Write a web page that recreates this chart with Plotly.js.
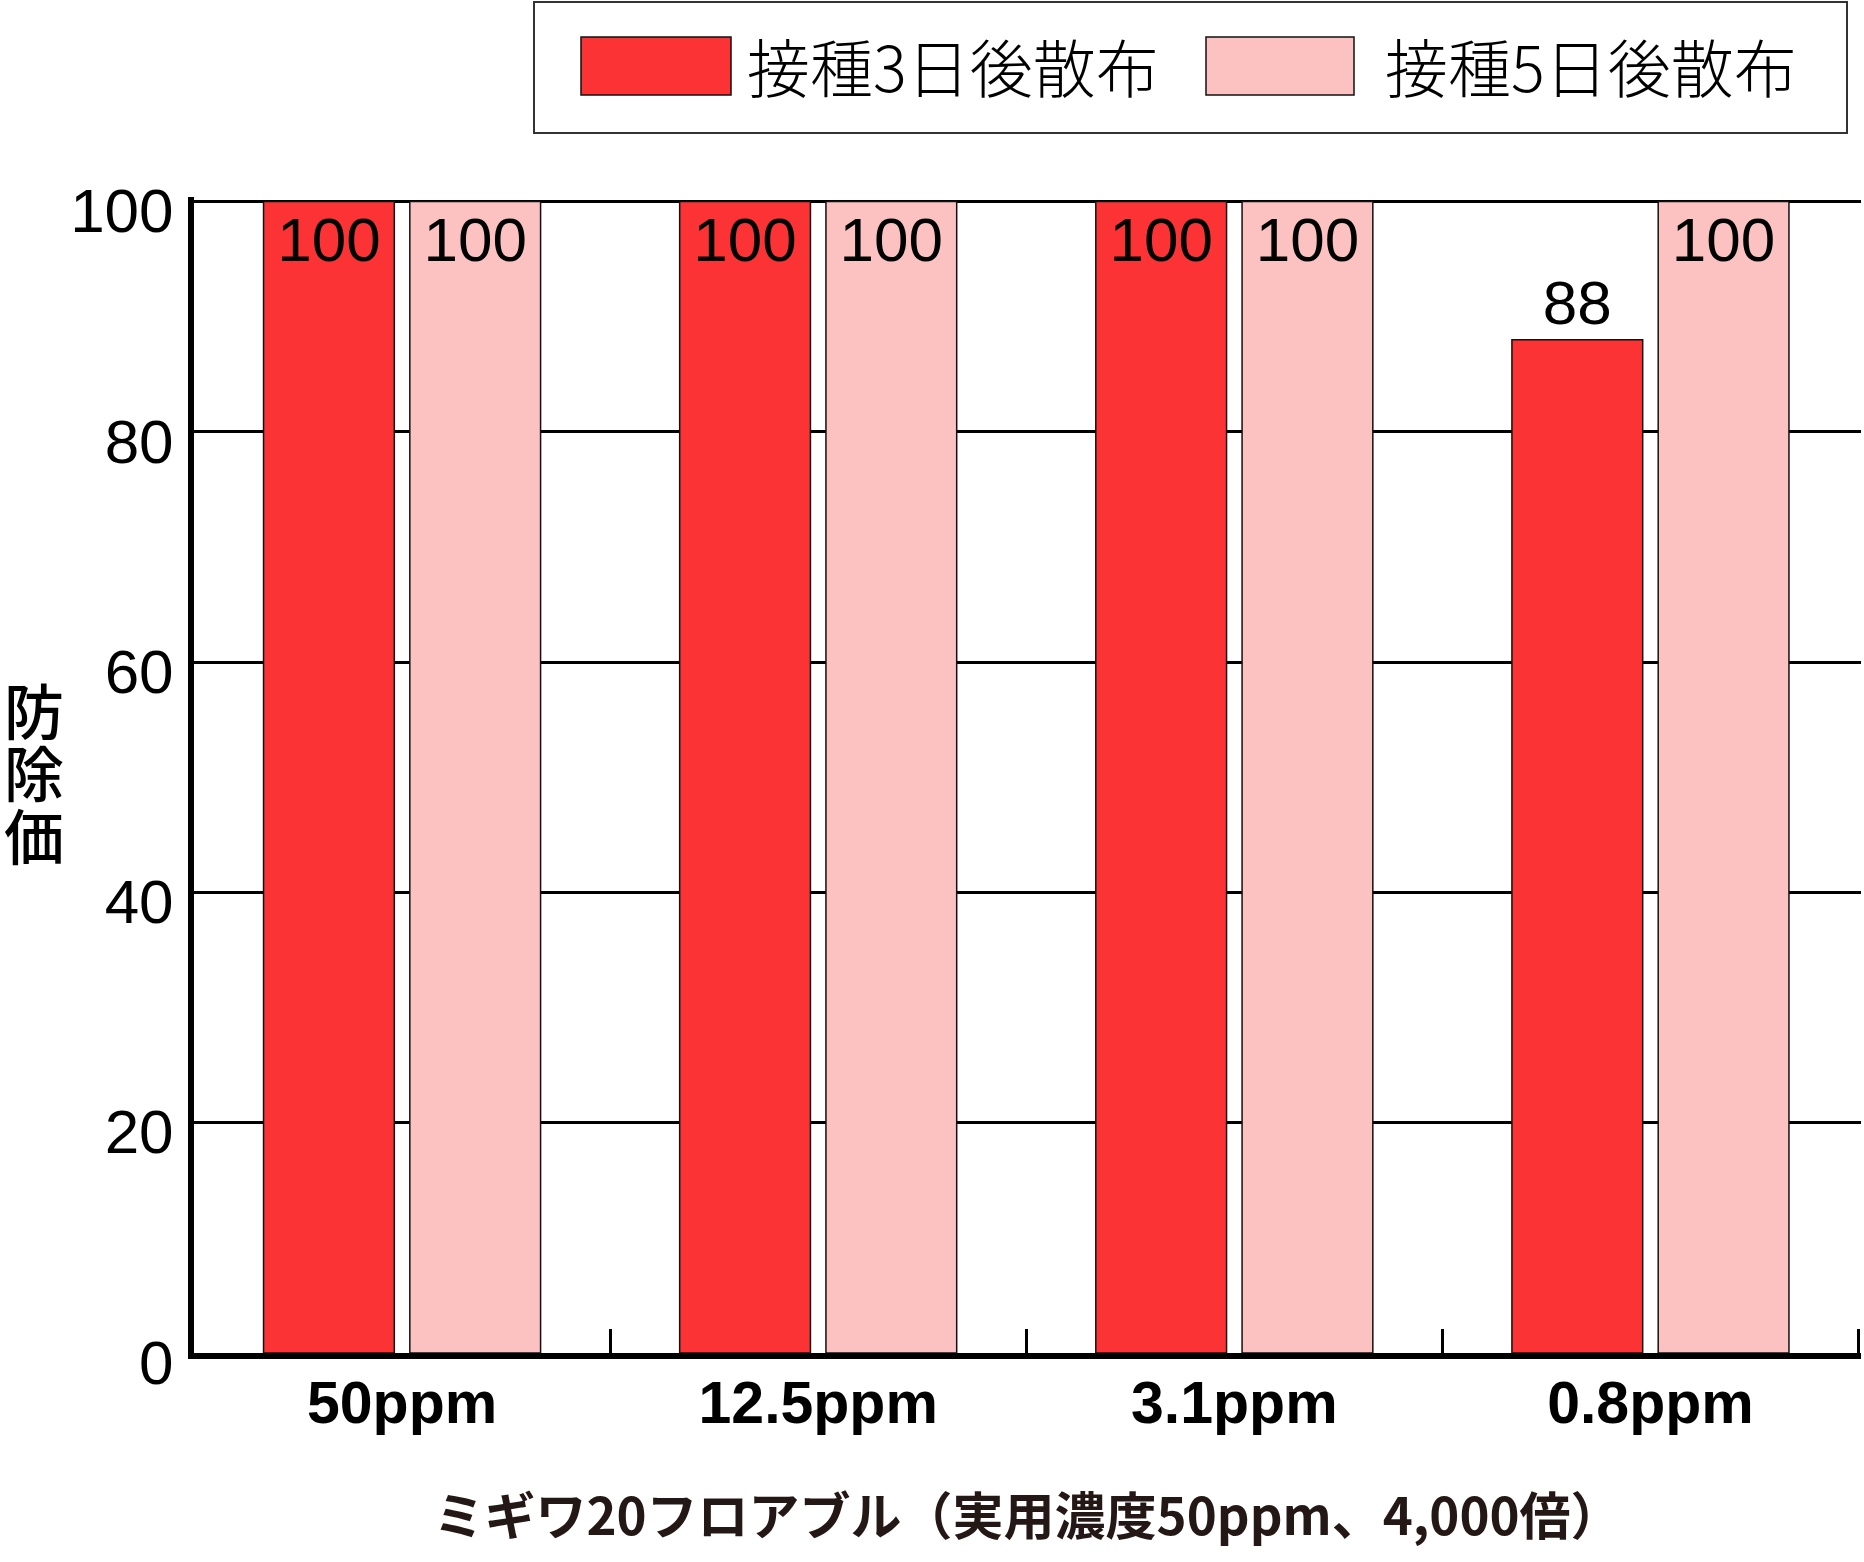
<!DOCTYPE html>
<html>
<head>
<meta charset="utf-8">
<script src="https://cdn.plot.ly/plotly-3.0.1.min.js"></script>
<style>
  html, body { margin: 0; padding: 0; background: #fff; }
  #chart { width: 1864px; height: 1562px; }
</style>
</head>
<body>
<div id="chart"></div>
<script>
// values
const categories = ['50ppm', '12.5ppm', '3.1ppm', '0.8ppm'];
const seriesNames = ['接種3日後散布', '接種5日後散布'];
const day3Values = [100, 100, 100, 88];
const day5Values = [100, 100, 100, 100];
const yTicks = [0, 20, 40, 60, 80, 100];
const yTitleChars = ['防', '除', '価'];
const xTitle = 'ミギワ20フロアブル（実用濃度50ppm、4,000倍）';

const colors = ['#FC3334', '#FCC1C1'];
const W = 1864, H = 1562;
const M = { l: 194, r: 3, t: 197, b: 209 };

// pixel -> paper helpers for the hand-made legend and y title
const px = x => (x - M.l) / (W - M.l - M.r);
const py = y => (H - M.b - y) / (H - M.t - M.b);

const numFont = { family: 'Liberation Sans, Arial, sans-serif', size: 62, color: '#000' };
const cjkFont = 'Noto Sans CJK JP, sans-serif';

const makeBar = (name, values, color, positions) => ({
  type: 'bar',
  name: name,
  x: categories,
  y: values,
  text: values.map(String),
  textposition: positions,
  insidetextanchor: 'end',
  textfont: numFont,
  constraintext: 'none',
  cliponaxis: false,
  marker: { color: color, line: { color: '#111', width: 1.5 } },
  hoverinfo: 'skip',
  showlegend: false
});

const traces = [
  makeBar(seriesNames[0], day3Values, colors[0], ['inside', 'inside', 'inside', 'outside']),
  makeBar(seriesNames[1], day5Values, colors[1], 'inside')
];

// legend drawn as box + swatches + labels
const legendBox = { x0: 534, x1: 1847, y0: 2, y1: 133 };
const swatchX = [[581, 731], [1206, 1354]];
const labelX = [745, 1383];

const shapes = [{
  type: 'rect', xref: 'paper', yref: 'paper',
  x0: px(legendBox.x0), x1: px(legendBox.x1), y0: py(legendBox.y1), y1: py(legendBox.y0),
  line: { color: '#333', width: 2 }, fillcolor: 'rgba(0,0,0,0)'
}];
const annotations = [];
seriesNames.forEach((name, i) => {
  shapes.push({
    type: 'rect', xref: 'paper', yref: 'paper',
    x0: px(swatchX[i][0]), x1: px(swatchX[i][1]), y0: py(95), y1: py(37),
    line: { color: '#111', width: 1.5 }, fillcolor: colors[i]
  });
  annotations.push({
    xref: 'paper', yref: 'paper', x: px(labelX[i]), y: py(64),
    xanchor: 'left', yanchor: 'middle', showarrow: false, text: name,
    font: { family: cjkFont, size: 63, color: '#000', weight: 300 }
  });
});

// vertical y title, one character per line, stacked tight as in the source
const yTitleY = [708, 771, 834];
yTitleChars.forEach((ch, i) => {
  annotations.push({
    xref: 'paper', yref: 'paper', x: px(34), y: py(yTitleY[i]),
    xanchor: 'center', yanchor: 'middle', showarrow: false, text: ch,
    font: { family: cjkFont, size: 60, color: '#000', weight: 500 }
  });
});

const layout = {
  width: W,
  height: H,
  margin: M,
  paper_bgcolor: '#fff',
  plot_bgcolor: '#fff',
  barmode: 'group',
  bargap: 0.297,
  bargroupgap: 0.106,
  showlegend: false,
  xaxis: {
    type: 'category',
    range: [-0.5, 3.506],
    showline: true,
    linecolor: '#000',
    linewidth: 6,
    showgrid: false,
    tickson: 'boundaries',
    ticks: 'inside',
    ticklen: 24,
    tickwidth: 3,
    tickcolor: '#000',
    tickfont: { family: 'Liberation Sans, Arial, sans-serif', size: 59, color: '#000', weight: 'bold' },
    ticklabelstandoff: -7,
    title: {
      text: xTitle,
      font: { family: cjkFont, size: 51, color: '#231815', weight: 'bold' },
      standoff: 67
    }
  },
  yaxis: {
    range: [0, 100.4],
    tickvals: yTicks,
    ticktext: yTicks.map(String),
    showline: true,
    linecolor: '#000',
    linewidth: 6,
    ticks: '',
    showgrid: true,
    gridcolor: '#000',
    gridwidth: 3,
    zeroline: false,
    tickfont: numFont,
    ticklabelstandoff: 2,
    ticklabelshift: 9
  },
  shapes: shapes,
  annotations: annotations
};

Plotly.newPlot('chart', traces, layout, { displayModeBar: false, staticPlot: true });
</script>
</body>
</html>
